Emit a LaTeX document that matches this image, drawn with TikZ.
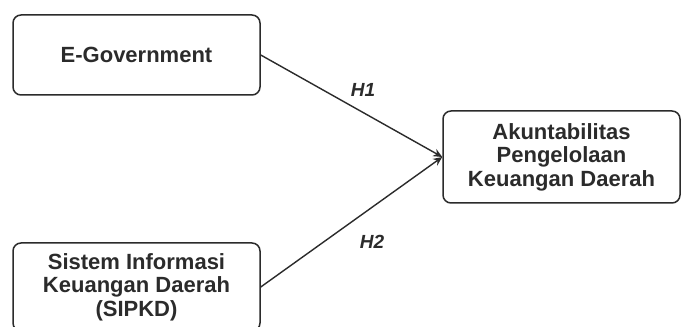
\documentclass[tikz,border=0pt]{standalone}
\usepackage{fontspec}
\setmainfont{Liberation Sans}
\usetikzlibrary{arrows.meta}
\definecolor{ink}{HTML}{2B2B2B}
\begin{document}
\begin{tikzpicture}[x=1pt,y=1pt,
  box/.style={draw=ink, line width=1.5pt, rounded corners=8pt, fill=white, align=center,
    font=\fontsize{22}{23.5}\selectfont\bfseries, text=ink, inner sep=0pt},
  conn/.style={draw=ink, line width=1.4pt, -{Stealth[length=9pt,width=8pt]}},
  hyp/.style={font=\fontsize{19}{20}\selectfont\bfseries\itshape, text=ink}]
\useasboundingbox (0,0) rectangle (681,327);
\fill[white] (0,0) rectangle (681,327);
\node[box, minimum width=247pt, minimum height=80pt] (egov) at (136.5,272) {E-Government};
\node[box, minimum width=247pt, minimum height=88pt] (sipkd) at (136.5,40) {Sistem Informasi\\Keuangan Daerah\\(SIPKD)};
\node[box, minimum width=237pt, minimum height=92pt] (akun) at (561.5,170) {Akuntabilitas\\Pengelolaan\\Keuangan Daerah};
\draw[conn] (egov.east) -- (akun.west);
\draw[conn] (sipkd.east) -- (akun.west);
\node[hyp] (h1) at (363,237) {H1};
\node[hyp] (h2) at (372,85) {H2};
\end{tikzpicture}
\end{document}
